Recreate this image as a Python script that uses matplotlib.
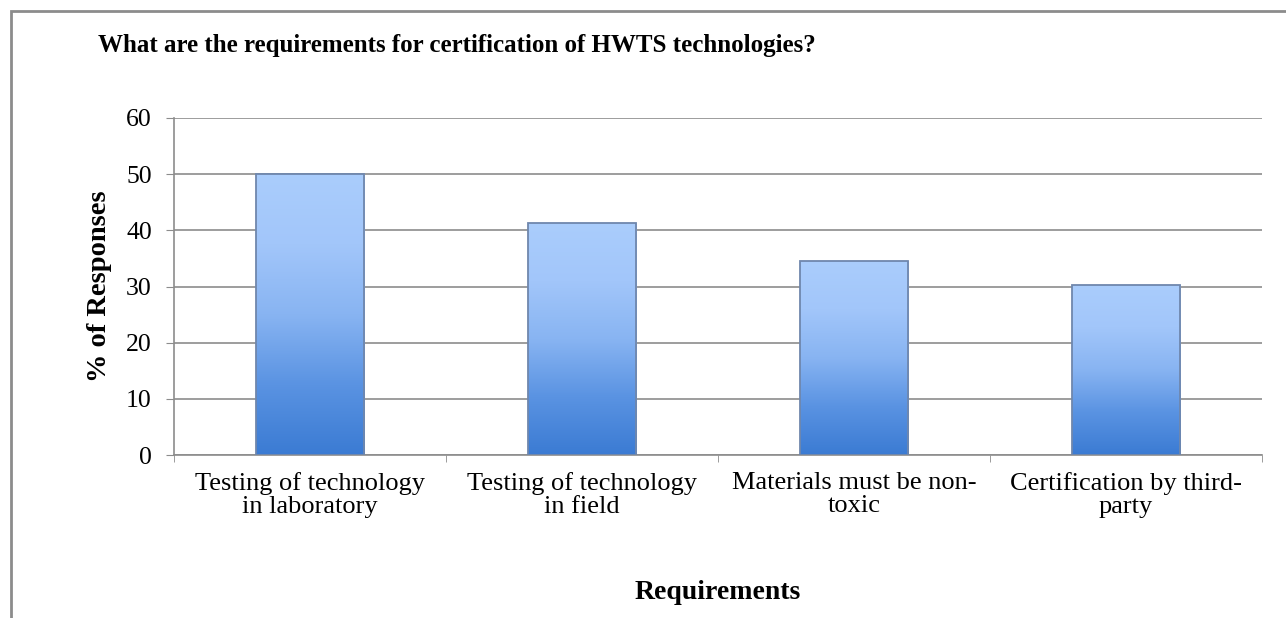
import numpy as np
import matplotlib.pyplot as plt
from matplotlib.colors import LinearSegmentedColormap
from matplotlib.patches import Rectangle

# data
categories = ['Testing of technology\nin laboratory', 'Testing of technology\nin field',
              'Materials must be non-\ntoxic', 'Certification by third-\nparty']
values = [50.0, 41.3, 34.6, 30.3]
yticks = [0, 10, 20, 30, 40, 50, 60]

plt.rcParams['font.family'] = ['Liberation Serif', 'DejaVu Serif']

fig = plt.figure(figsize=(12.86, 6.18), dpi=100)
ax = fig.add_axes([174/1286, 1 - 455/618, 1088/1286, 337/618])

# outer chart frame
fig.patches.append(Rectangle((11/1286, -0.1), 1.2, 1 - 11/618 + 0.1, transform=fig.transFigure,
                             fill=False, edgecolor='#8c8c8c', linewidth=2.0))

cmap = LinearSegmentedColormap.from_list('blues', ['#3b7bd3', '#5a93e2', '#88b4f2', '#a2c6fa', '#aacdfc'])
grad = np.linspace(0, 1, 256).reshape(-1, 1)
x = np.arange(len(values)) + 0.5
width = 0.4
bars = ax.bar(x, values, width, color='none', edgecolor='#6f87ad', linewidth=1.3, zorder=3)
for b in bars:
    x0, y0 = b.get_x(), b.get_y()
    im = ax.imshow(grad, cmap=cmap, origin='lower', aspect='auto',
                   extent=[x0, x0 + b.get_width(), y0, y0 + b.get_height()], zorder=2)
    im.set_clip_path(b)

ax.set_xlim(0, len(values))
ax.set_ylim(0, 60)
ax.set_yticks(yticks)
ax.set_xticks(x)
ax.set_xticklabels(categories, fontsize=19, linespacing=1.05)
ax.set_xticks(np.arange(len(values) + 1), minor=True)
ax.tick_params(axis='x', which='major', length=0, pad=12)
ax.tick_params(axis='x', which='minor', length=5, color='#8c8c8c')
ax.tick_params(axis='y', labelsize=18.5, length=6, color='#8c8c8c', pad=10)
ax.yaxis.grid(True, color='#8c8c8c', linewidth=1.2, zorder=0)
ax.set_axisbelow(True)
for s in ['top', 'right']:
    ax.spines[s].set_visible(False)
for s in ['left', 'bottom']:
    ax.spines[s].set_color('#8c8c8c')
    ax.spines[s].set_linewidth(1.2)

ax.set_ylabel('% of Responses', fontsize=20.5, fontweight='bold')
ax.yaxis.set_label_coords(-0.057, 0.5)
ax.set_xlabel('Requirements', fontsize=20, fontweight='bold')
ax.xaxis.set_label_coords(0.5, -0.371)
fig.text(98/1286, 1 - 52/618, 'What are the requirements for certification of HWTS technologies?',
         fontsize=18, fontweight='bold', va='baseline', ha='left')

fig.savefig('out.png', dpi=100)
